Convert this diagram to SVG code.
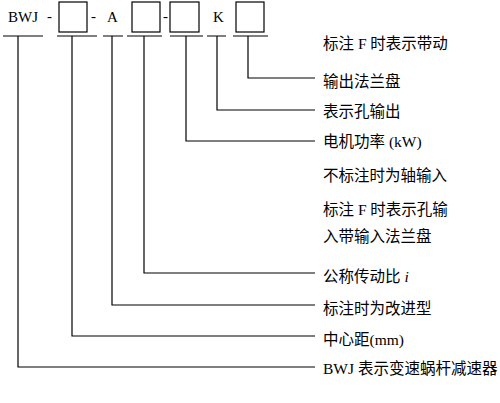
<svg xmlns="http://www.w3.org/2000/svg" width="500" height="403" viewBox="0 0 500 403">
<style>
.ln{fill:none;stroke:#000;stroke-width:1.2}
.bx{fill:#fff;stroke:#000;stroke-width:1.2}
.t{font-family:"Liberation Serif","Noto Sans CJK SC",serif;font-size:15px;fill:#000}
.c{font-family:"Liberation Serif","Noto Sans CJK SC",serif;font-size:15.5px;fill:#000}
</style>
<rect width="500" height="403" fill="#fff"/>
<g id="code">
<text class="t" x="8" y="22">BWJ</text>
<text class="t" x="47" y="21">-</text>
<rect id="box1" class="bx" x="59" y="2" width="28" height="30"/>
<text class="t" x="91" y="21">-</text>
<text class="t" x="107" y="22">A</text>
<rect id="box2" class="bx" x="132" y="2" width="28" height="30"/>
<text class="t" x="163" y="21">-</text>
<rect id="box3" class="bx" x="170" y="2" width="29" height="30"/>
<text class="t" x="213" y="22">K</text>
<rect id="box4" class="bx" x="236" y="2" width="28" height="30"/>
</g>
<g id="connectors" class="ln">
<path d="M3,36H43M18,36V367H315"/>
<path d="M57,36H97M72,36V336H315"/>
<path d="M103,36H123M112,36V305H315"/>
<path d="M127,36H162M144,36V273H315"/>
<path d="M170,36H203M186,36V141H315"/>
<path d="M207,36H226M217,36V110H315"/>
<path d="M233,36H268M248,36V78H315"/>
</g>
<g id="labels">
<text class="c" x="323" y="49">标注 F 时表示带动</text>
<text class="c" x="323" y="87">输出法兰盘</text>
<text class="c" x="323" y="117">表示孔输出</text>
<text class="c" x="323" y="147">电机功率 (kW)</text>
<text class="c" x="323" y="181">不标注时为轴输入</text>
<text class="c" x="323" y="215">标注 F 时表示孔输</text>
<text class="c" x="323" y="242">入带输入法兰盘</text>
<text class="c" x="323" y="282">公称传动比 <tspan font-style="italic">i</tspan></text>
<text class="c" x="323" y="314">标注时为改进型</text>
<text class="c" x="323" y="345">中心距(mm)</text>
<text class="c" x="323" y="374">BWJ 表示变速蜗杆减速器</text>
</g>
</svg>
